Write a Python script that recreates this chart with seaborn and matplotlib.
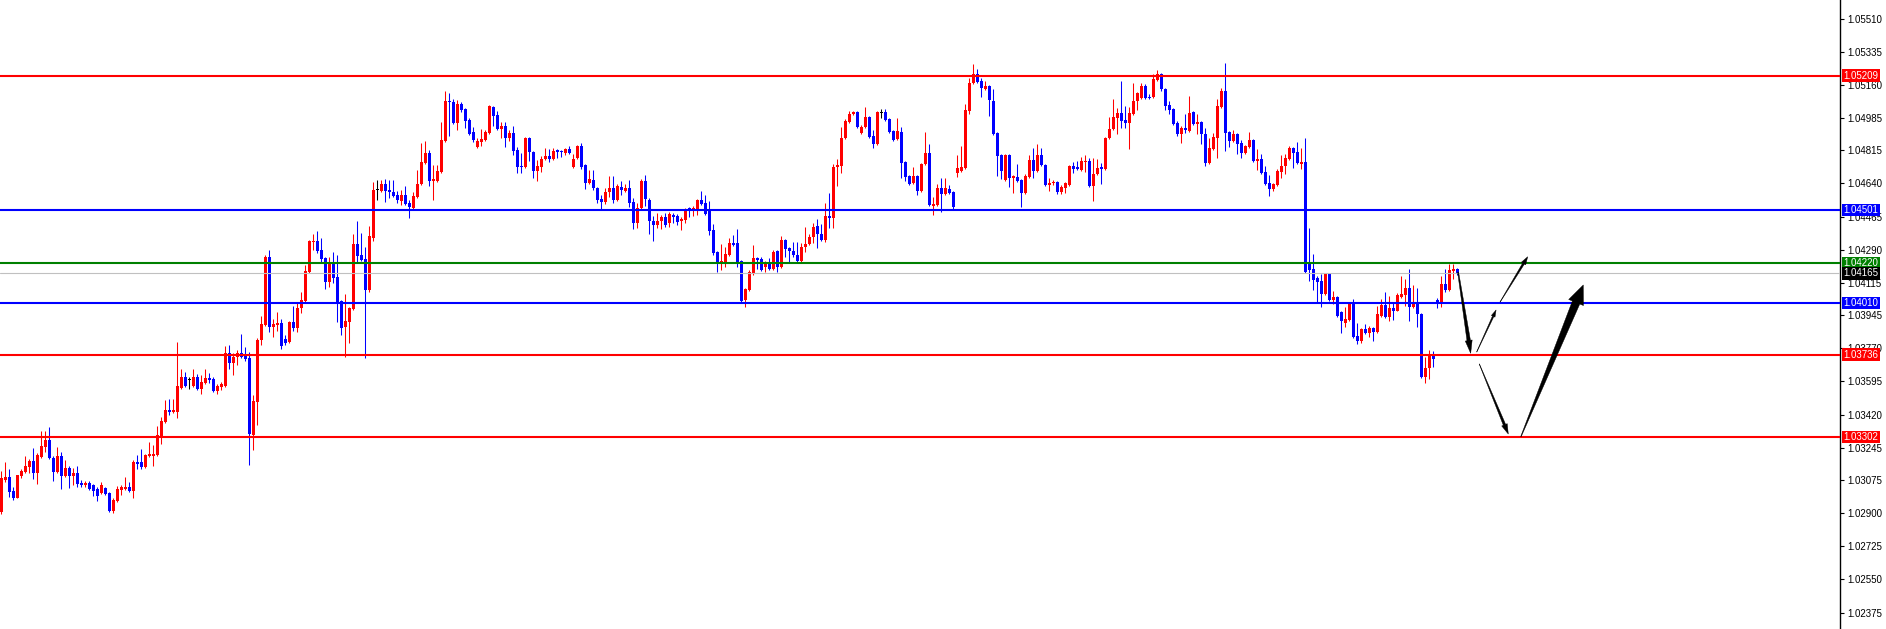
import numpy as np
import matplotlib
matplotlib.use("Agg")
import matplotlib.pyplot as plt
from matplotlib.patches import Polygon
from matplotlib.transforms import blended_transform_factory
import seaborn as sns

# hourly candles, prices in points (1 point = 0.00001)
open_pts = [
    102906, 103075, 103090, 103017, 102980, 103096, 103117, 103143, 103175, 103112,
    103196, 103249, 103286, 103191, 103117, 103201, 103096, 103138, 103096, 103112,
    103059, 103048, 103059, 103048, 103027, 103006, 103032, 103006, 102911, 102964,
    103022, 103027, 103038, 103017, 103170, 103170, 103143, 103201, 103201, 103207,
    103307, 103381, 103444, 103433, 103433, 103560, 103618, 103602, 103571, 103618,
    103555, 103587, 103613, 103608, 103544, 103566, 103571, 103745, 103692, 103724,
    103745, 103740, 103719, 103312, 103486, 103814, 103893, 104252, 103882, 103893,
    103903, 103819, 103803, 103908, 103877, 103982, 104019, 104172, 104331, 104336,
    104289, 104246, 104120, 104220, 104146, 104019, 103882, 103908, 103977, 104320,
    104262, 104241, 104077, 104352, 104605, 104600, 104637, 104605, 104595, 104579,
    104547, 104579, 104537, 104510, 104568, 104637, 104748, 104801, 104653, 104653,
    104700, 104864, 105075, 105070, 104959, 105059, 105033, 104975, 104911, 104832,
    104859, 104869, 104906, 105043, 105001, 104927, 104943, 104880, 104906, 104816,
    104732, 104727, 104880, 104806, 104705, 104727, 104769, 104785, 104769, 104816,
    104811, 104801, 104822, 104727, 104774, 104837, 104737, 104642, 104658, 104616,
    104558, 104542, 104595, 104616, 104552, 104621, 104600, 104616, 104542, 104431,
    104510, 104653, 104552, 104442, 104420, 104442, 104463, 104431, 104473, 104468,
    104442, 104447, 104510, 104505, 104505, 104552, 104537, 104500, 104394, 104278,
    104220, 104225, 104262, 104326, 104326, 104230, 104025, 104077, 104167, 104246,
    104241, 104199, 104215, 104188, 104283, 104199, 104341, 104299, 104283, 104262,
    104230, 104304, 104320, 104357, 104415, 104373, 104341, 104468, 104457, 104727,
    104732, 104880, 104964, 105006, 105017, 104906, 104938, 104991, 104890, 104848,
    105012, 105017, 104980, 104917, 104874, 104911, 104753, 104679, 104642, 104679,
    104600, 104742, 104801, 104521, 104526, 104616, 104584, 104611, 104595, 104695,
    104705, 104721, 105022, 105170, 105217, 105181, 105138, 105154, 105075, 104906,
    104790, 104658, 104790, 104669, 104674, 104658, 104589, 104674, 104764, 104705,
    104790, 104737, 104632, 104642, 104647, 104595, 104616, 104632, 104732, 104727,
    104711, 104753, 104758, 104626, 104690, 104727, 104716, 104880, 104927, 104985,
    105012, 104975, 104959, 105006, 105075, 105091, 105154, 105096, 105096, 105186,
    105217, 105138, 105054, 105033, 104959, 104901, 104932, 104917, 105017, 104954,
    104964, 104901, 104748, 104822, 104880, 105043, 105128, 104911, 104864, 104901,
    104853, 104801, 104832, 104869, 104758, 104769, 104700, 104642, 104611, 104632,
    104700, 104732, 104769, 104827, 104806, 104742, 104753, 104220, 104188, 104141,
    104125, 104056, 104162, 104025, 104041, 103961, 103903, 103919, 104009, 103835,
    103808, 103872, 103851, 103877, 103856, 103940, 103998, 103935, 103982, 103967,
    104041, 104051, 104088, 103988, 104009, 103951, 103618, 103666, 103729, 104025,
    104014, 104109, 104077, 104178, 104188,
]
high_pts = [
    103122, 103170, 103133, 103038, 103101, 103133, 103201, 103185, 103244, 103217,
    103333, 103333, 103354, 103201, 103249, 103222, 103180, 103148, 103138, 103148,
    103075, 103069, 103069, 103054, 103038, 103064, 103038, 103011, 102980, 103043,
    103048, 103090, 103064, 103180, 103207, 103238, 103212, 103275, 103259, 103360,
    103407, 103497, 103502, 103502, 103803, 103660, 103645, 103618, 103660, 103634,
    103629, 103660, 103639, 103618, 103581, 103592, 103782, 103787, 103745, 103761,
    103845, 103777, 103750, 103523, 103824, 103940, 104262, 104289, 103924, 103961,
    103924, 103840, 103914, 103993, 104009, 104067, 104209, 104341, 104373, 104389,
    104352, 104252, 104252, 104278, 104262, 104025, 104056, 103988, 104373, 104442,
    104378, 104304, 104415, 104647, 104658, 104658, 104663, 104658, 104658, 104600,
    104605, 104626, 104552, 104595, 104711, 104853, 104864, 104816, 104737, 104737,
    104964, 105128, 105117, 105086, 105080, 105070, 105038, 104985, 104938, 104880,
    104927, 104922, 105054, 105048, 105022, 104964, 104964, 104922, 104943, 104832,
    104801, 104885, 104885, 104811, 104764, 104785, 104827, 104822, 104827, 104822,
    104816, 104827, 104837, 104795, 104843, 104853, 104742, 104711, 104711, 104621,
    104579, 104616, 104679, 104679, 104637, 104653, 104637, 104658, 104563, 104537,
    104663, 104684, 104563, 104468, 104484, 104473, 104484, 104489, 104484, 104479,
    104463, 104510, 104516, 104521, 104558, 104600, 104579, 104547, 104426, 104283,
    104320, 104304, 104352, 104368, 104399, 104236, 104088, 104183, 104315, 104252,
    104252, 104230, 104246, 104289, 104289, 104362, 104347, 104304, 104331, 104331,
    104326, 104410, 104373, 104431, 104452, 104426, 104537, 104589, 104742, 104769,
    104938, 104980, 105022, 105022, 105022, 104948, 105043, 104996, 104922, 105022,
    105033, 105033, 104985, 104922, 104985, 104938, 104758, 104684, 104727, 104684,
    104748, 104911, 104848, 104568, 104637, 104669, 104669, 104632, 104600, 104790,
    104837, 105059, 105196, 105270, 105244, 105196, 105181, 105159, 105138, 104911,
    104795, 104795, 104795, 104684, 104742, 104663, 104690, 104790, 104827, 104848,
    104827, 104742, 104669, 104658, 104653, 104632, 104647, 104737, 104753, 104758,
    104779, 104790, 104774, 104774, 104769, 104748, 104885, 104991, 105086, 105038,
    105181, 105049, 105043, 105170, 105122, 105170, 105165, 105112, 105217, 105239,
    105223, 105144, 105075, 105038, 104969, 104943, 105006, 105101, 105022, 105006,
    104969, 104932, 104880, 104906, 105086, 105144, 105276, 104917, 104922, 104906,
    104869, 104843, 104911, 104874, 104822, 104795, 104732, 104684, 104642, 104716,
    104790, 104795, 104837, 104832, 104859, 104827, 104880, 104405, 104267, 104151,
    104162, 104167, 104167, 104072, 104046, 103966, 103988, 104014, 104030, 103903,
    103877, 103898, 103887, 103882, 103993, 104030, 104067, 104046, 104009, 104062,
    104151, 104135, 104188, 104104, 104088, 103956, 103724, 103761, 103755, 104035,
    104151, 104188, 104215, 104215, 104194,
]
low_pts = [
    102895, 103064, 102985, 102969, 102980, 103085, 103112, 103112, 103080, 103054,
    103191, 103222, 103185, 103069, 103112, 103027, 103090, 103032, 103048, 103038,
    103038, 103038, 103022, 102990, 102964, 103001, 102995, 102906, 102900, 102958,
    102995, 103022, 103011, 102980, 103133, 103133, 103138, 103196, 103148, 103201,
    103265, 103375, 103418, 103428, 103402, 103555, 103566, 103555, 103566, 103550,
    103529, 103581, 103587, 103539, 103529, 103550, 103566, 103660, 103629, 103682,
    103719, 103703, 103154, 103233, 103365, 103787, 103887, 103856, 103829, 103861,
    103766, 103787, 103798, 103861, 103856, 103956, 104014, 104167, 104289, 104273,
    104220, 104083, 104093, 104114, 103908, 103840, 103724, 103798, 103972, 104225,
    104230, 103719, 104067, 104336, 104552, 104595, 104542, 104563, 104568, 104537,
    104526, 104526, 104457, 104505, 104563, 104632, 104742, 104626, 104552, 104647,
    104695, 104859, 104890, 104954, 104922, 105017, 104932, 104896, 104859, 104827,
    104837, 104864, 104901, 104943, 104922, 104880, 104832, 104864, 104790, 104695,
    104695, 104721, 104758, 104669, 104653, 104700, 104764, 104753, 104764, 104774,
    104779, 104790, 104795, 104721, 104769, 104716, 104611, 104637, 104605, 104537,
    104500, 104531, 104568, 104537, 104547, 104579, 104595, 104516, 104399, 104405,
    104505, 104521, 104373, 104336, 104405, 104399, 104410, 104410, 104431, 104420,
    104394, 104431, 104463, 104468, 104473, 104526, 104473, 104368, 104262, 104172,
    104183, 104199, 104257, 104310, 104199, 104014, 103988, 104072, 104157, 104188,
    104178, 104172, 104183, 104183, 104172, 104194, 104252, 104225, 104252, 104225,
    104225, 104278, 104315, 104326, 104299, 104336, 104331, 104405, 104405, 104626,
    104695, 104874, 104959, 105001, 104932, 104901, 104932, 104880, 104827, 104843,
    104985, 104969, 104906, 104864, 104869, 104669, 104653, 104632, 104637, 104579,
    104595, 104737, 104521, 104473, 104521, 104489, 104579, 104584, 104500, 104674,
    104700, 104716, 105006, 105165, 105170, 105096, 105133, 104996, 104896, 104679,
    104663, 104653, 104621, 104589, 104647, 104516, 104584, 104669, 104669, 104700,
    104732, 104626, 104600, 104632, 104584, 104584, 104589, 104626, 104695, 104711,
    104705, 104700, 104621, 104547, 104684, 104637, 104711, 104874, 104922, 104901,
    104932, 104932, 104822, 105001, 105027, 105086, 105086, 105086, 105091, 105181,
    105128, 105027, 105006, 104948, 104890, 104853, 104906, 104911, 104948, 104901,
    104848, 104732, 104742, 104816, 104774, 105038, 104811, 104832, 104859, 104795,
    104774, 104795, 104827, 104753, 104711, 104690, 104632, 104574, 104600, 104626,
    104669, 104690, 104764, 104721, 104742, 104716, 104167, 104125, 104077, 104009,
    103988, 104051, 104019, 104004, 103935, 103851, 103882, 103914, 103824, 103792,
    103798, 103845, 103829, 103808, 103851, 103935, 103930, 103914, 103919, 103967,
    104035, 103993, 103914, 103982, 103882, 103613, 103587, 103608, 103671, 103982,
    103988, 104067, 104072, 104135, 104157,
]
close_pts = [
    103085, 103090, 103011, 102980, 103101, 103122, 103148, 103175, 103112, 103207,
    103254, 103286, 103191, 103117, 103201, 103096, 103138, 103096, 103112, 103054,
    103048, 103059, 103027, 103017, 102990, 103048, 103001, 102911, 102969, 103027,
    103038, 103038, 103017, 103170, 103159, 103143, 103207, 103212, 103212, 103312,
    103386, 103444, 103433, 103444, 103571, 103618, 103571, 103602, 103618, 103555,
    103592, 103613, 103602, 103544, 103571, 103581, 103745, 103692, 103724, 103745,
    103724, 103713, 103317, 103492, 103814, 103898, 104252, 103882, 103898, 103903,
    103782, 103798, 103908, 103877, 103982, 104025, 104178, 104336, 104336, 104283,
    104241, 104120, 104220, 104141, 104009, 103877, 103914, 103982, 104320, 104257,
    104236, 104077, 104362, 104605, 104605, 104637, 104600, 104595, 104574, 104552,
    104579, 104531, 104516, 104574, 104637, 104753, 104801, 104653, 104663, 104705,
    104869, 105075, 105070, 104959, 105059, 105027, 104969, 104901, 104869, 104864,
    104874, 104911, 105049, 104996, 104927, 104943, 104880, 104906, 104811, 104727,
    104727, 104880, 104806, 104705, 104732, 104769, 104785, 104769, 104811, 104806,
    104806, 104822, 104801, 104769, 104837, 104727, 104642, 104663, 104616, 104552,
    104542, 104595, 104616, 104552, 104626, 104605, 104616, 104537, 104431, 104510,
    104653, 104558, 104442, 104420, 104442, 104463, 104420, 104479, 104463, 104436,
    104452, 104505, 104505, 104510, 104552, 104531, 104479, 104389, 104273, 104220,
    104230, 104267, 104326, 104315, 104220, 104019, 104083, 104172, 104246, 104236,
    104183, 104215, 104188, 104278, 104199, 104341, 104294, 104283, 104262, 104230,
    104304, 104320, 104357, 104410, 104373, 104341, 104468, 104457, 104727, 104737,
    104880, 104969, 105006, 105017, 104938, 104938, 104991, 104885, 104848, 105017,
    105012, 104975, 104911, 104869, 104917, 104748, 104674, 104637, 104679, 104600,
    104742, 104801, 104526, 104531, 104616, 104584, 104616, 104589, 104516, 104721,
    104727, 105027, 105170, 105217, 105175, 105144, 105154, 105080, 104901, 104785,
    104705, 104790, 104669, 104679, 104653, 104589, 104679, 104764, 104705, 104790,
    104737, 104632, 104642, 104647, 104595, 104621, 104642, 104732, 104716, 104716,
    104758, 104758, 104626, 104690, 104721, 104716, 104880, 104927, 104991, 105012,
    104969, 104959, 105012, 105075, 105117, 105154, 105091, 105091, 105191, 105217,
    105138, 105049, 105027, 104954, 104901, 104932, 104922, 105012, 104954, 104964,
    104901, 104748, 104827, 104885, 105049, 105128, 104906, 104864, 104901, 104848,
    104801, 104837, 104869, 104758, 104769, 104695, 104637, 104611, 104637, 104705,
    104732, 104774, 104827, 104801, 104748, 104753, 104172, 104183, 104130, 104120,
    104056, 104162, 104025, 104041, 103940, 103914, 103924, 104009, 103829, 103808,
    103872, 103851, 103877, 103856, 103951, 103998, 103935, 103982, 103967, 104051,
    104056, 104088, 103988, 104009, 103951, 103618, 103666, 103729, 103713, 104014,
    104109, 104077, 104183, 104188, 104165,
]

# horizontal levels drawn on the chart
level_prices = [1.05209, 1.04501, 1.04220, 1.04165, 1.04010, 1.03736, 1.03302]
level_colors = ["#ff0000", "#0000ff", "#008000", "#c0c0c0", "#0000ff", "#ff0000", "#ff0000"]
level_widths = [1.5, 1.5, 1.5, 0.8, 1.5, 1.5, 1.5]
label_colors = ["#ff0000", "#0000ff", "#008000", "#000000", "#0000ff", "#ff0000", "#ff0000"]

tick_values = [1.05510, 1.05335, 1.05160, 1.04985, 1.04815, 1.04640, 1.04465,
               1.04290, 1.04115, 1.03945, 1.03770, 1.03595, 1.03420, 1.03245,
               1.03075, 1.02900, 1.02725, 1.02550, 1.02375]

# hand-drawn forecast arrows: (bar index, price) start -> end
arrow_start = [(364.2, 1.04172), (368.85, 1.03750), (374.7, 1.04014),
               (369.5, 1.03687), (379.9, 1.03303)]
arrow_end = [(367.35, 1.03743), (373.7, 1.03972), (381.6, 1.04253),
             (376.75, 1.03317), (395.5, 1.04104)]
# tail width, shaft width at head, head width, head length (pixels)
arrow_sizes = [(1.0, 3.5, 7, 13), (0.3, 1.5, 4, 7), (0.3, 2.0, 5, 8),
               (0.3, 2.5, 6, 10), (0.5, 8.0, 16, 19)]

opens = np.array(open_pts) / 1e5
highs = np.array(high_pts) / 1e5
lows = np.array(low_pts) / 1e5
closes = np.array(close_pts) / 1e5
assert len(opens) == len(highs) == len(lows) == len(closes)

sns.set_theme(style="white")
plt.rcParams["font.family"] = ["Liberation Sans", "DejaVu Sans"]

W, H, AX_W = 1886, 629, 1840
fig = plt.figure(figsize=(W / 100, H / 100), dpi=100)
ax = fig.add_axes([0, 0, AX_W / W, 1])

x = np.arange(len(opens))
colors = np.where(closes > opens, "#ff0000", np.where(closes < opens, "#0000ff", "#000000"))
body_low = np.minimum(opens, closes)
body_h = np.maximum(np.abs(closes - opens), 0.00004)

ax.vlines(x, lows, highs, colors=colors, linewidth=0.75, zorder=2)
ax.bar(x, body_h, bottom=body_low, width=0.75, color=colors, linewidth=0, zorder=3)

ax.set_xlim(-0.325, 459.675)
ax.set_ylim(1.02288, 1.05608)

for p, c, w in zip(level_prices, level_colors, level_widths):
    ax.axhline(p, color=c, lw=w, zorder=4)

for s in ["top", "left", "bottom"]:
    ax.spines[s].set_visible(False)
ax.spines["right"].set_color("black")
ax.spines["right"].set_linewidth(1.0)
ax.grid(False)
ax.set_xticks([])
ax.yaxis.tick_right()
ax.set_yticks(tick_values)
ax.set_yticklabels([f"{v:.5f}" for v in tick_values])
ax.tick_params(axis="y", right=True, left=False, direction="out", length=3,
               width=0.8, color="black", labelcolor="black", labelsize=7, pad=2)

trans = blended_transform_factory(ax.transAxes, ax.transData)
for p, c in zip(level_prices, label_colors):
    ax.text(1 + 3.5 / AX_W, p, f"{p:.5f}", transform=trans, ha="left", va="center",
            fontsize=7, color="white", clip_on=False, zorder=6,
            bbox=dict(boxstyle="square,pad=0.12", fc=c, ec="none"))


def arrow_poly(p0, p1, w0, w1, hw, hl):
    a = ax.transData.transform(p0)
    b = ax.transData.transform(p1)
    d = b - a
    u = d / np.hypot(*d)
    n = np.array([-u[1], u[0]])
    base = b - u * hl
    pts = [a + n * w0 / 2, base + n * w1 / 2, base + n * hw / 2, b,
           base - n * hw / 2, base - n * w1 / 2, a - n * w0 / 2]
    return ax.transData.inverted().transform(np.array(pts))


for p0, p1, sz in zip(arrow_start, arrow_end, arrow_sizes):
    ax.add_patch(Polygon(arrow_poly(p0, p1, *sz), closed=True, fc="black",
                         ec="black", lw=0.3, zorder=7))

fig.savefig("out.png", dpi=100, facecolor="white")
